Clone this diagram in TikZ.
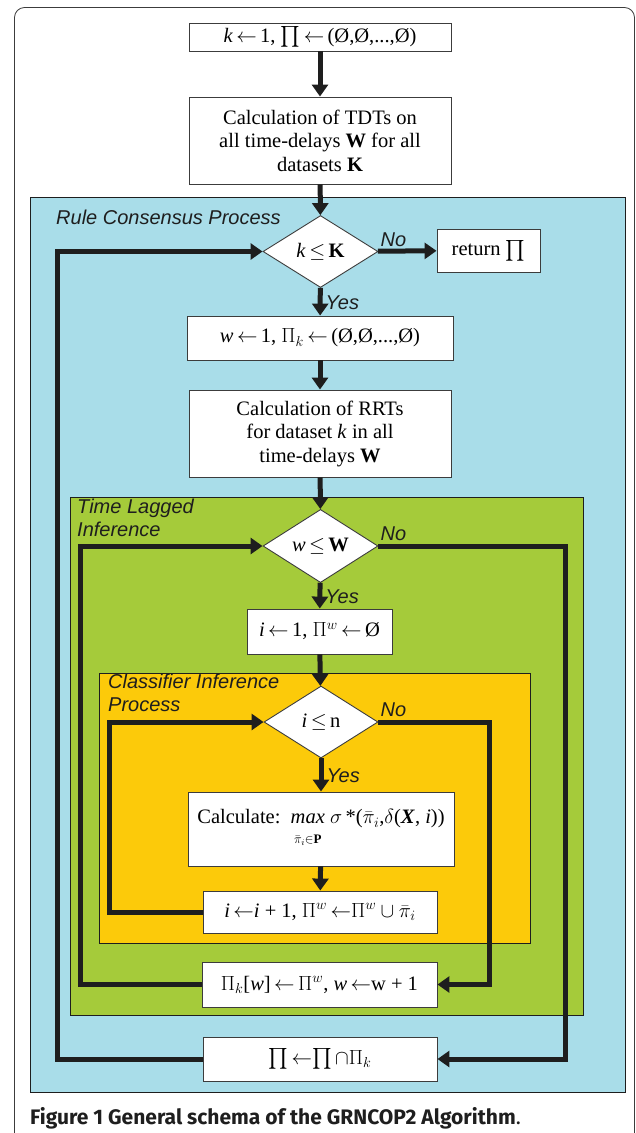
\documentclass[tikz,border=0pt]{standalone}
\usepackage{fix-cm}
\usepackage{exscale}
\usepackage{fontspec}
\setmainfont{Liberation Serif}
\newfontfamily\labfont{Liberation Sans}
\newfontfamily\capfont{Fira Sans}
\usetikzlibrary{shapes.geometric,arrows.meta}
\definecolor{cblue}{HTML}{A9DDE9}
\definecolor{cgreen}{HTML}{A5CB3A}
\definecolor{cyellow}{HTML}{FCCA0A}
\definecolor{ink}{HTML}{1E1E1E}
\definecolor{edge}{HTML}{3C3C3C}
\newcommand{\la}{$\leftarrow$}
\tikzset{
  x=1pt, y=-1pt,
  stepbox/.style={draw=edge, line width=0.9pt, fill=white, inner sep=2pt, align=center,
    font=\fontsize{20.5}{23.5}\selectfont},
  decide/.style={diamond, draw=edge, line width=0.9pt, fill=white, inner sep=0pt,
    minimum width=115pt, minimum height=72pt, font=\fontsize{20.5}{23.5}\selectfont},
  region/.style={draw=ink, line width=0.9pt},
  flow/.style={draw=ink, line width=5pt, line join=miter, -{Triangle[width=16pt,length=12pt]}},
  lbl/.style={font=\labfont\itshape\fontsize{20}{23}\selectfont, text=ink, inner sep=0pt, align=left},
}
\begin{document}
\begin{tikzpicture}
\useasboundingbox (0,0) rectangle (636,1133);
% outer frame
\draw[edge, line width=0.8pt, rounded corners=10pt] (14.5,1150) -- (14.5,7.5) -- (634.5,7.5) -- (634.5,1150);
% regions
\path[region, fill=cblue] (30.5,197.5) rectangle (625.5,1092);
\path[region, fill=cgreen] (70.5,497) rectangle (583,1015);
\path[region, fill=cyellow] (99.5,673) rectangle (530,943);
% region labels
\node[lbl, anchor=west] (lblrc) at (56,217) {Rule Consensus Process};
\node[lbl, anchor=north west] (lbltl) at (77,498.5) {Time Lagged\\Inference};
\node[lbl, anchor=north west] (lblci) at (108,674) {Classifier Inference\\Process};
% nodes
\node[stepbox, minimum width=262pt, minimum height=28pt] (b1) at (320,37)
  {\textit{k}\,\la\,1, $\prod$\,\la\,(Ø,Ø,...,Ø)};
\node[stepbox, minimum width=262pt, minimum height=87pt] (b2) at (320,140.5)
  {Calculation of TDTs on\\all time-delays \textbf{W} for all\\datasets \textbf{K}};
\node[decide] (d1) at (320.5,251.5) {\textit{k}\,$\le$\,\textbf{K}};
\node[stepbox, minimum width=103pt, minimum height=43pt] (ret) at (488.5,250.5) {return $\prod$};
\node[stepbox, minimum width=266pt, minimum height=44pt] (b3) at (320,338)
  {\textit{w}\,\la\,1, $\Pi_k$\,\la\,(Ø,Ø,...,Ø)};
\node[stepbox, minimum width=262pt, minimum height=87pt] (b4) at (320,433.5)
  {Calculation of RRTs\\for dataset \textit{k} in all\\time-delays \textbf{W}};
\node[decide] (d2) at (320.5,546) {\textit{w}\,$\le$\,\textbf{W}};
\node[stepbox, minimum width=145pt, minimum height=45pt] (b5) at (319.5,631.5)
  {\textit{i}\,\la\,1, $\Pi^w$\,\la\,Ø};
\node[decide, minimum width=114pt] (d3) at (321,722) {\textit{i}\,$\le$\,n};
\node[stepbox, minimum width=266pt, minimum height=74pt, inner xsep=1pt] (b6) at (321,829)
  {Calculate:\ \ \begin{tabular}[t]{@{}c@{}}\textit{max}\\[-4pt]{\fontsize{13}{13}\selectfont$\bar\pi_i{\in}\mathbf{P}$}\end{tabular}\ $\sigma$\,*($\bar\pi_i$,$\delta$(\textbf{\textit{X}}, \textit{i}))};
\node[stepbox, minimum width=234pt, minimum height=42pt] (b7) at (320,912)
  {\textit{i}\,\la\textit{i} + 1, $\Pi^w$\,\la$\Pi^w\cup\bar\pi_i$};
\node[stepbox, minimum width=235pt, minimum height=45pt] (b8) at (319.5,984.5)
  {$\Pi_k$[\textit{w}]\,\la\,$\Pi^w$, \textit{w}\,\la w + 1};
\node[stepbox, minimum width=234pt, minimum height=44pt] (b9) at (320,1059)
  {$\prod$\,\la$\prod\cap\Pi_k$};
% straight flow
\draw[flow] (b1) -- (b2);
\draw[flow] (b2) -- (d1);
\draw[flow] (d1) -- node[lbl, anchor=west, xshift=3pt, yshift=-1pt] (yes1) {Yes} (b3);
\draw[flow] (d1) -- (ret);
\draw[flow] (b3) -- (b4);
\draw[flow] (b4) -- (d2);
\draw[flow] (d2) -- node[lbl, anchor=west, xshift=3pt, yshift=-1pt] (yes2) {Yes} (b5);
\draw[flow] (b5) -- (d3);
\draw[flow] (d3) -- node[lbl, anchor=west, xshift=3pt, yshift=-1pt] (yes3) {Yes} (b6);
\draw[flow] (b6) -- (b7);
% No labels
\node[lbl, anchor=south west] (no1) at ([xshift=2pt,yshift=5pt]d1.east) {No};
\node[lbl, anchor=south west] (no2) at ([xshift=2pt,yshift=5pt]d2.east) {No};
\node[lbl, anchor=south west] (no3) at ([xshift=2pt,yshift=5pt]d3.east) {No};
% loops
\draw[flow] (b9.west) -- (57.5,1059) -- (57.5,251.5) -- (d1.west);
\draw[flow] (b8.west) -- (80,984.5) -- (80,546) -- (d2.west);
\draw[flow] (b7.west) -- (109.5,912) -- (109.5,722) -- (d3.west);
\draw[flow] (d2.east) -- (565,546) -- (565,1059) -- (b9.east);
\draw[flow] (d3.east) -- (489,722) -- (489,984.5) -- (b8.east);
% caption
\node[anchor=west, inner sep=0pt, font=\capfont\fontsize{21}{24}\selectfont, text=ink] (cap) at (30,1118)
  {\textbf{Figure 1 General schema of the GRNCOP2 Algorithm}.};
\end{tikzpicture}
\end{document}
